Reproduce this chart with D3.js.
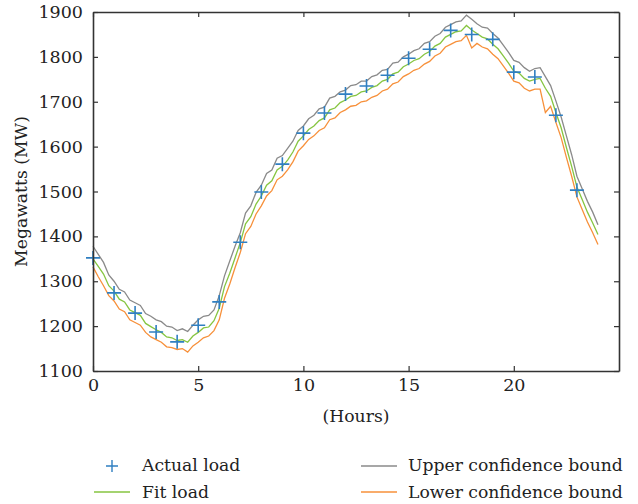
<!DOCTYPE html>
<html>
<head>
<meta charset="utf-8">
<script src="https://cdn.jsdelivr.net/npm/d3@7"></script>
<style>
  html, body { margin: 0; padding: 0; background: #fff; }
  svg text { font-family: "DejaVu Serif", "Liberation Serif", serif; fill: #222; }
</style>
</head>
<body>
<svg id="chart" width="638" height="504"></svg>
<script>
// ---- Data ----
const actualHours = [0,1,2,3,4,5,6,7,8,9,10,11,12,13,14,15,16,17,18,19,20,21,22,23];
const actualLoad  = [1352,1274,1229,1187,1165,1202,1254,1387,1499,1561,1630,1675,1717,1735,1759,1797,1817,1859,1850,1839,1766,1755,1670,1503];

// fitted curve sampled every 15 minutes, hours 0..24
const fitLoad = [
 1350,1333,1316,1290,1278,1260,1254,1236,1230,1224,1206,1199,1192,1186,1176,1174,
 1168,1170,1164,1178,1186,1196,1198,1212,1240,1288,1318,1352,1386,1428,1444,1472,
 1490,1514,1524,1548,1556,1570,1588,1612,1624,1638,1646,1658,1664,1682,1686,1698,
 1704,1712,1714,1722,1724,1732,1736,1746,1750,1762,1766,1778,1784,1792,1796,1806,
 1812,1824,1830,1844,1850,1856,1858,1870,1860,1852,1844,1840,1828,1818,1802,1786,
 1768,1764,1752,1746,1750,1752,1730,1712,1676,1642,1598,1556,1510,1482,1454,1430,
 1404];
const upperBound = [
 1378,1360,1342,1314,1300,1282,1276,1258,1252,1246,1228,1222,1214,1210,1200,1198,
 1190,1194,1188,1202,1214,1222,1224,1236,1268,1312,1345,1378,1408,1452,1468,1498,
 1514,1540,1548,1574,1580,1596,1612,1636,1646,1662,1670,1684,1688,1708,1712,1722,
 1726,1736,1738,1746,1746,1756,1760,1770,1772,1786,1788,1800,1806,1814,1818,1830,
 1834,1846,1852,1866,1872,1878,1880,1893,1884,1874,1866,1864,1852,1842,1826,1810,
 1792,1788,1776,1768,1774,1776,1756,1736,1702,1666,1624,1582,1534,1506,1478,1454,
 1426];
const lowerBound = [
 1332,1310,1290,1268,1256,1238,1232,1214,1208,1202,1186,1176,1170,1164,1154,1152,
 1148,1150,1142,1156,1164,1174,1178,1190,1214,1262,1294,1330,1364,1406,1422,1450,
 1468,1490,1502,1526,1534,1548,1566,1590,1602,1616,1624,1636,1642,1660,1664,1676,
 1682,1690,1692,1700,1702,1710,1714,1724,1728,1740,1744,1756,1762,1770,1774,1784,
 1790,1802,1808,1822,1828,1834,1836,1848,1820,1830,1822,1818,1806,1796,1780,1764,
 1746,1742,1730,1724,1728,1728,1676,1690,1654,1620,1576,1534,1488,1460,1432,1408,
 1382];
const sampleStep = 0.25; // hours between fitted samples

const xTicks = [0,5,10,15,20];
const yTicks = [1100,1200,1300,1400,1500,1600,1700,1800,1900];
const xLabel = "(Hours)";
const yLabel = "Megawatts (MW)";
const legendItems = ["Actual load","Fit load","Upper confidence bound","Lower confidence bound"];

// ---- Layout ----
const colors = { actual: "#2f7fc1", fit: "#86c540", upper: "#8a8a8a", lower: "#f7903a" };
const m = { left: 93, right: 619, top: 12, bottom: 371 };
const fontFam = "DejaVu Serif, Liberation Serif, serif";
const fs = 17.5;
const fsL = 17.2;

const svg = d3.select("#chart");
const x = d3.scaleLinear().domain([0, 25]).range([m.left, m.right]);
const y = d3.scaleLinear().domain([1100, 1900]).range([m.bottom, m.top]);

const hours = fitLoad.map((_, i) => i * sampleStep);
const line = d3.line().x((d, i) => x(hours[i])).y(d => y(d));

// Curves
svg.append("path").datum(upperBound).attr("d", line)
  .attr("fill", "none").attr("stroke", colors.upper).attr("stroke-width", 1.3);
svg.append("path").datum(lowerBound).attr("d", line)
  .attr("fill", "none").attr("stroke", colors.lower).attr("stroke-width", 1.3);
svg.append("path").datum(fitLoad).attr("d", line)
  .attr("fill", "none").attr("stroke", colors.fit).attr("stroke-width", 1.3);

// Actual load markers
svg.append("g").selectAll("path.mk").data(actualLoad).join("path")
  .attr("transform", (d, i) => `translate(${x(actualHours[i])},${y(d)})`)
  .attr("d", "M-7,0H7M0,-7V7")
  .attr("fill", "none").attr("stroke", colors.actual).attr("stroke-width", 1.6);

// Axes
const axisColor = "#333";
const fmt = d3.format("d");
const gx = svg.append("g").attr("transform", `translate(0,${m.bottom})`)
  .call(d3.axisBottom(x).tickValues(xTicks).tickSizeInner(-5).tickSizeOuter(0).tickPadding(8).tickFormat(fmt));
const gxTop = svg.append("g").attr("transform", `translate(0,${m.top})`)
  .call(d3.axisTop(x).tickValues(xTicks).tickSizeInner(-5).tickSizeOuter(0).tickFormat(""));
const gy = svg.append("g").attr("transform", `translate(${m.left},0)`)
  .call(d3.axisLeft(y).tickValues(yTicks).tickSizeInner(-5).tickSizeOuter(0).tickPadding(10).tickFormat(fmt));
const gyR = svg.append("g").attr("transform", `translate(${m.right},0)`)
  .call(d3.axisRight(y).tickValues(yTicks).tickSizeInner(-5).tickSizeOuter(0).tickFormat(""));

[gx, gxTop, gy, gyR].forEach(g => {
  g.attr("font-family", fontFam).attr("font-size", fs);
  g.selectAll(".domain").attr("stroke", axisColor).attr("stroke-width", 1.6);
  g.selectAll(".tick line").attr("stroke", axisColor).attr("stroke-width", 1.2);
  g.selectAll(".tick text").attr("fill", "#222");
});

// Axis labels
svg.append("text").attr("x", 356).attr("y", 422)
  .attr("text-anchor", "middle").attr("font-size", fsL).text(xLabel);
svg.append("text").attr("transform", `translate(27,${(m.top + m.bottom) / 2}) rotate(-90)`)
  .attr("text-anchor", "middle").attr("font-size", fsL).text(yLabel);

// Legend
const lg = svg.append("g").attr("font-size", fsL);
lg.append("path").attr("d", `M${112 - 6},466H${112 + 6}M112,${466 - 6}V${466 + 6}`)
  .attr("stroke", colors.actual).attr("stroke-width", 1.4).attr("fill", "none");
lg.append("text").attr("x", 142).attr("y", 471).text(legendItems[0]);
lg.append("line").attr("x1", 94).attr("x2", 130).attr("y1", 492).attr("y2", 492)
  .attr("stroke", colors.fit).attr("stroke-width", 1.6);
lg.append("text").attr("x", 142).attr("y", 498).text(legendItems[1]);
lg.append("line").attr("x1", 361).attr("x2", 397).attr("y1", 466).attr("y2", 466)
  .attr("stroke", colors.upper).attr("stroke-width", 1.6);
lg.append("text").attr("x", 408).attr("y", 471).text(legendItems[2]);
lg.append("line").attr("x1", 361).attr("x2", 397).attr("y1", 492).attr("y2", 492)
  .attr("stroke", colors.lower).attr("stroke-width", 1.6);
lg.append("text").attr("x", 408).attr("y", 498).text(legendItems[3]);
</script>
</body>
</html>
